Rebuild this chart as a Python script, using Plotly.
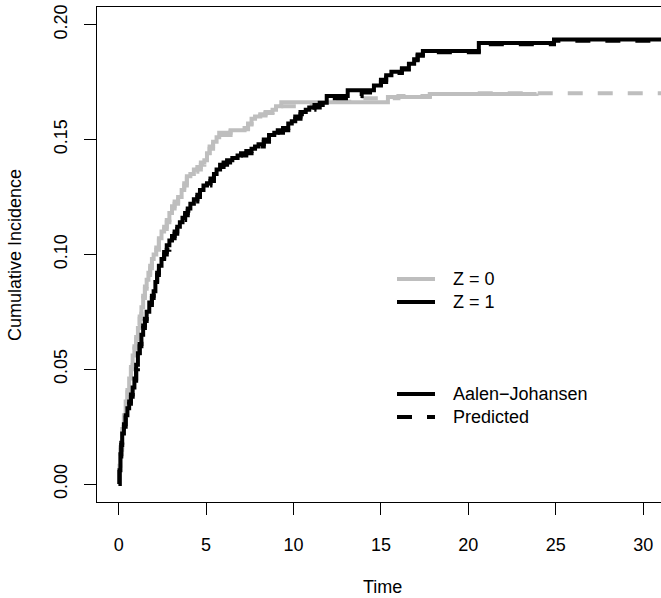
import plotly.graph_objects as go

# Cumulative incidence: Aalen-Johansen estimates and model predictions by group Z
time_z0_aj = [0, 0.05, 0.1, 0.2, 0.3, 0.4, 0.5, 0.6, 0.7, 0.8, 0.9, 1.0, 1.1, 1.2, 1.3, 1.4,
              1.5, 1.6, 1.7, 1.8, 1.9, 2.0, 2.15, 2.3, 2.45, 2.6, 2.75, 2.9, 3.05, 3.2, 3.4,
              3.6, 3.75, 3.9, 4.1, 4.3, 4.5, 4.7, 4.9, 5.05, 5.2, 5.4, 5.6, 5.75, 6.4, 7.2,
              7.4, 7.6, 7.8, 8.1, 8.4, 8.8, 9.0, 9.3, 15.4, 17.8, 23.9]
cif_z0_aj = [0, 0.008, 0.016, 0.024, 0.030, 0.036, 0.041, 0.046, 0.051, 0.056, 0.060, 0.064,
             0.068, 0.073, 0.077, 0.082, 0.086, 0.089, 0.092, 0.095, 0.098, 0.100, 0.103,
             0.107, 0.110, 0.112, 0.115, 0.118, 0.121, 0.123, 0.125, 0.128, 0.131, 0.134,
             0.135, 0.137, 0.138, 0.140, 0.141, 0.144, 0.147, 0.149, 0.151, 0.153, 0.154,
             0.155, 0.157, 0.159, 0.160, 0.161, 0.162, 0.163, 0.1645, 0.1662, 0.1685,
             0.1698, 0.1700]

time_z0_pred = [0, 0.05, 0.1, 0.2, 0.3, 0.4, 0.5, 0.6, 0.7, 0.8, 0.9, 1.0, 1.1, 1.2, 1.3, 1.4,
                1.5, 1.6, 1.7, 1.8, 1.9, 2.0, 2.15, 2.3, 2.45, 2.6, 2.75, 2.9, 3.05, 3.2, 3.4,
                3.6, 3.75, 3.9, 4.1, 4.3, 4.5, 4.7, 4.9, 5.05, 5.2, 5.4, 5.6, 5.75, 6.4, 7.1,
                7.4, 7.6, 7.8, 8.1, 8.4, 8.8, 9.1, 9.3, 10.5, 12.0, 14.0, 16.0, 17.8, 20.0,
                32.5]
cif_z0_pred = [0, 0.007, 0.015, 0.023, 0.029, 0.035, 0.040, 0.045, 0.050, 0.055, 0.059, 0.063,
               0.067, 0.072, 0.076, 0.081, 0.085, 0.088, 0.091, 0.094, 0.097, 0.099, 0.102,
               0.106, 0.109, 0.111, 0.114, 0.117, 0.120, 0.122, 0.124, 0.127, 0.130, 0.133,
               0.134, 0.136, 0.137, 0.139, 0.140, 0.143, 0.146, 0.148, 0.150, 0.152, 0.1535,
               0.1545, 0.1565, 0.1585, 0.1595, 0.1605, 0.1615, 0.1625, 0.1635, 0.1645,
               0.1650, 0.1665, 0.1680, 0.1690, 0.1698, 0.1702, 0.1702]

time_z1_aj = [0, 0.05, 0.1, 0.15, 0.2, 0.3, 0.4, 0.5, 0.6, 0.7, 0.8, 0.9, 1.0, 1.1, 1.2, 1.3,
              1.4, 1.5, 1.6, 1.75, 1.9, 2.0, 2.1, 2.2, 2.3, 2.45, 2.6, 2.75, 2.9, 3.05, 3.2,
              3.35, 3.5, 3.65, 3.8, 3.95, 4.1, 4.3, 4.5, 4.65, 4.85, 5.05, 5.25, 5.45, 5.6,
              5.8, 6.0, 6.2, 6.5, 6.8, 7.0, 7.3, 7.6, 7.8, 8.0, 8.3, 8.6, 8.9, 9.1, 9.4, 9.7,
              9.9, 10.1, 10.4, 10.7, 10.9, 11.2, 11.5, 11.9, 13.1, 14.6, 15.0, 15.3, 15.6,
              16.2, 16.6, 16.9, 17.1, 17.4, 20.6, 24.9, 32.5]
cif_z1_aj = [0, 0.006, 0.013, 0.018, 0.022, 0.026, 0.030, 0.033, 0.036, 0.039, 0.042, 0.046,
             0.052, 0.057, 0.061, 0.065, 0.069, 0.072, 0.075, 0.079, 0.082, 0.084, 0.088,
             0.092, 0.095, 0.098, 0.101, 0.104, 0.106, 0.108, 0.110, 0.112, 0.114, 0.116,
             0.118, 0.120, 0.122, 0.124, 0.126, 0.128, 0.130, 0.131, 0.133, 0.135, 0.137,
             0.139, 0.140, 0.141, 0.142, 0.143, 0.144, 0.145, 0.146, 0.147, 0.148, 0.150,
             0.152, 0.153, 0.154, 0.155, 0.157, 0.158, 0.160, 0.162, 0.163, 0.164, 0.165,
             0.166, 0.169, 0.1715, 0.1735, 0.176, 0.178, 0.1795, 0.181, 0.183, 0.185, 0.187,
             0.1885, 0.1920, 0.1935, 0.1935]

time_z1_pred = [0, 0.05, 0.1, 0.15, 0.2, 0.3, 0.4, 0.5, 0.6, 0.7, 0.8, 0.9, 1.0, 1.1, 1.2, 1.3,
                1.4, 1.5, 1.6, 1.75, 1.9, 2.0, 2.1, 2.2, 2.3, 2.45, 2.6, 2.75, 2.9, 3.05, 3.2,
                3.35, 3.5, 3.65, 3.8, 3.95, 4.1, 4.3, 4.5, 4.65, 4.85, 5.05, 5.25, 5.45, 5.6,
                5.8, 6.0, 6.2, 6.5, 6.8, 7.0, 7.3, 7.6, 7.8, 8.0, 8.3, 8.6, 8.9, 9.1, 9.4, 9.7,
                9.9, 10.1, 10.4, 10.7, 10.9, 11.2, 11.5, 11.9, 13.0, 13.9, 14.6, 15.0, 15.3,
                15.6, 16.2, 16.6, 16.9, 17.1, 17.4, 20.6, 24.9, 32.5]
cif_z1_pred = [0, 0.007, 0.012, 0.017, 0.021, 0.025, 0.029, 0.032, 0.035, 0.038, 0.041,
               0.045, 0.050, 0.055, 0.060, 0.064, 0.068, 0.071, 0.074, 0.078, 0.081, 0.083,
               0.087, 0.091, 0.094, 0.097, 0.100, 0.102, 0.105, 0.107, 0.109, 0.111, 0.113,
               0.115, 0.117, 0.119, 0.121, 0.123, 0.125, 0.127, 0.129, 0.130, 0.132, 0.134,
               0.136, 0.138, 0.139, 0.140, 0.141, 0.142, 0.143, 0.144, 0.145, 0.146, 0.147,
               0.149, 0.151, 0.152, 0.153, 0.154, 0.156, 0.157, 0.159, 0.161, 0.162, 0.163,
               0.164, 0.165, 0.168, 0.169, 0.1705, 0.1725, 0.175, 0.177, 0.179, 0.1805,
               0.1825, 0.1845, 0.1865, 0.188, 0.1915, 0.1930, 0.1930]

x_ticks = [0, 5, 10, 15, 20, 25, 30]
y_ticks = [0.00, 0.05, 0.10, 0.15, 0.20]
group_labels = ["Z = 0", "Z = 1"]
method_labels = ["Aalen\u2212Johansen", "Predicted"]

GREY = "#BEBEBE"
BLACK = "#000000"
FONT = "Liberation Sans, Arial, Helvetica, sans-serif"
LW = 4
DASH = "15px,15px"

W, H = 661, 598
L, R, T, B = 97, 0, 7, 96

fig = go.Figure()

curves = [
    (time_z0_aj, cif_z0_aj, GREY, "solid"),
    (time_z0_pred, cif_z0_pred, GREY, DASH),
    (time_z1_aj, cif_z1_aj, BLACK, "solid"),
    (time_z1_pred, cif_z1_pred, BLACK, DASH),
]
for t, c, col, dash in curves:
    fig.add_trace(go.Scatter(
        x=t, y=c, mode="lines",
        line=dict(color=col, width=LW, dash=dash, shape="hv"),
        showlegend=False, hoverinfo="skip",
    ))

axis_common = dict(
    showgrid=False, zeroline=False,
    showline=True, linecolor="black", linewidth=1,
    ticks="outside", ticklen=12, tickwidth=1, tickcolor="black",
    tickfont=dict(family=FONT, size=18, color="black"),
)

fig.update_xaxes(
    range=[-1.24, 31.02], tickvals=x_ticks, ticktext=[str(v) for v in x_ticks],
    mirror=True, ticklabelstandoff=14, **axis_common,
)
fig.update_yaxes(
    range=[-0.0078, 0.2077], tickvals=y_ticks, ticktext=[f"{v:.2f}" for v in y_ticks],
    mirror=False, tickangle=-90, ticklabelstandoff=10, **axis_common,
)

pw = W - L - R
ph = H - T - B


def px_x(p):
    return (p - L) / pw


def px_y(p):
    return (H - B - p) / ph


annotations = [
    dict(text="Time", x=px_x(382), y=px_y(587), xref="paper", yref="paper",
         showarrow=False, font=dict(family=FONT, size=18, color="black"),
         xanchor="center", yanchor="middle"),
    dict(text="Cumulative Incidence", x=px_x(15), y=px_y(255), xref="paper", yref="paper",
         showarrow=False, textangle=-90, font=dict(family=FONT, size=18, color="black"),
         xanchor="center", yanchor="middle"),
]

shapes = []
legend_rows = [
    (group_labels[0], GREY, "solid", 279),
    (group_labels[1], BLACK, "solid", 302),
    (method_labels[0], BLACK, "solid", 394),
    (method_labels[1], BLACK, DASH, 417),
]
for label, col, dash, ypx in legend_rows:
    shapes.append(dict(type="line", xref="paper", yref="paper",
                       x0=px_x(397), x1=px_x(435), y0=px_y(ypx), y1=px_y(ypx),
                       line=dict(color=col, width=LW, dash=dash)))
    annotations.append(dict(text=label, x=px_x(451), y=px_y(ypx), xref="paper",
                            yref="paper", showarrow=False, xanchor="left",
                            yanchor="middle",
                            font=dict(family=FONT, size=18, color="black")))

fig.update_layout(
    width=W, height=H,
    margin=dict(l=L, r=R, t=T, b=B, pad=0),
    paper_bgcolor="white", plot_bgcolor="white",
    showlegend=False,
    annotations=annotations, shapes=shapes,
)

fig.write_html("out.html")
